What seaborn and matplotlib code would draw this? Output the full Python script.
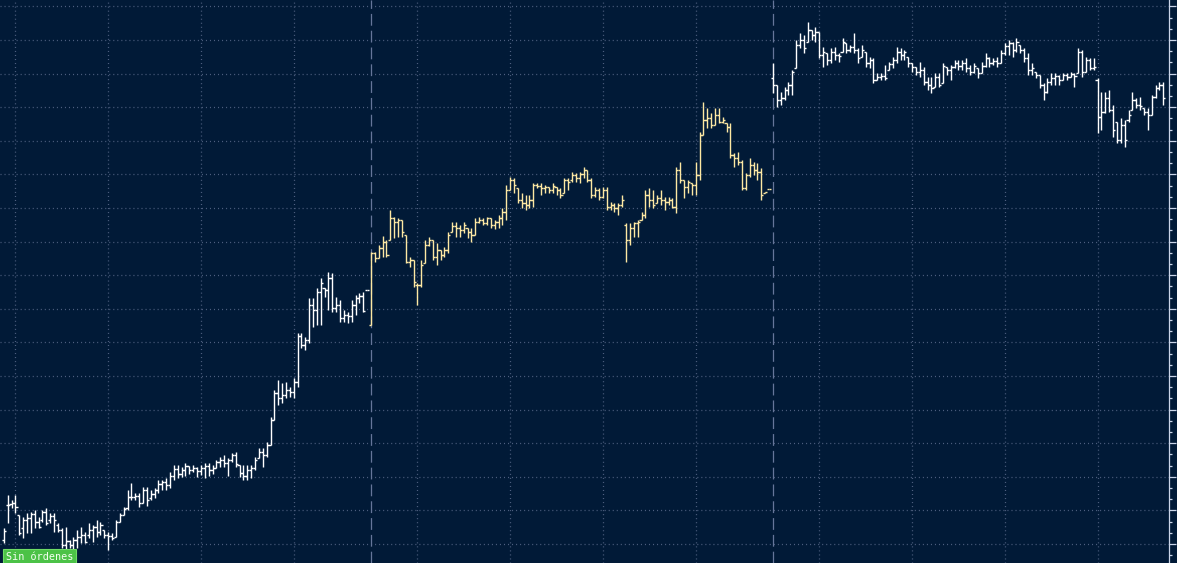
import numpy as np
import matplotlib
matplotlib.use("Agg")
import matplotlib.pyplot as plt
from matplotlib.ticker import FixedLocator, NullFormatter
import seaborn as sns

# session 1 (already running at the left edge), bar slots 9..103
s1_high = [472, 505, 500, 505, 485, 483, 487, 488, 490, 483,
           490, 492, 487, 487, 477, 472, 473, 460, 463, 470,
           473, 468, 477, 475, 480, 478, 470, 468, 467, 480,
           487, 493, 510, 517, 507, 507, 513, 513, 510, 512,
           520, 520, 522, 528, 535, 535, 533, 537, 534, 535,
           533, 535, 537, 537, 535, 540, 543, 545, 542, 547,
           548, 535, 535, 535, 535, 543, 552, 552, 558, 583,
           610, 620, 617, 618, 613, 622, 667, 667, 663, 702,
           702, 712, 722, 712, 728, 727, 703, 700, 690, 688,
           700, 705, 707, 708, 710]
s1_low = [457, 477, 492, 487, 465, 462, 467, 467, 472, 472,
          478, 475, 477, 468, 468, 452, 450, 452, 450, 452,
          457, 457, 462, 458, 463, 465, 462, 450, 460, 463,
          478, 485, 490, 500, 500, 493, 497, 494, 500, 502,
          507, 510, 510, 512, 520, 522, 523, 524, 526, 528,
          523, 525, 522, 524, 526, 532, 533, 533, 524, 538,
          533, 523, 520, 520, 522, 530, 542, 533, 543, 555,
          580, 595, 597, 602, 603, 602, 613, 652, 650, 657,
          673, 675, 675, 703, 690, 688, 688, 678, 678, 677,
          678, 685, 697, 688, 710]
s1_open = [460, 495, 496, 497, 485, 472, 480, 482, 486, 478,
           480, 488, 480, 484, 475, 470, 455, 459, 455, 460,
           463, 465, 465, 470, 473, 468, 470, 465, 464, 463,
           478, 485, 492, 503, 503, 504, 497, 510, 502, 506,
           510, 516, 518, 515, 524, 531, 526, 530, 534, 530,
           532, 529, 532, 534, 530, 532, 538, 540, 537, 540,
           545, 535, 527, 524, 530, 532, 542, 548, 545, 555,
           580, 607, 602, 605, 610, 608, 618, 664, 655, 660,
           695, 690, 708, 712, 710, 722, 692, 695, 682, 685,
           684, 695, 702, 704, 710]
s1_close = [469, 495, 497, 493, 467, 480, 482, 486, 478, 473,
            488, 477, 484, 480, 470, 455, 459, 455, 460, 463,
            465, 458, 470, 473, 468, 475, 465, 464, 462, 478,
            485, 491, 503, 503, 504, 497, 510, 500, 506, 510,
            516, 518, 515, 524, 531, 526, 530, 534, 530, 532,
            529, 532, 534, 530, 532, 538, 540, 537, 540, 545,
            536, 527, 524, 530, 532, 540, 548, 545, 555, 580,
            607, 602, 605, 610, 608, 618, 664, 655, 660, 695,
            690, 708, 717, 710, 722, 692, 695, 682, 685, 684,
            695, 702, 704, 689, 710]

# session 2, bar slots 104..207
s2_high = [748, 748, 755, 764, 760, 790, 783, 782, 780, 765,
           743, 740, 717, 740, 760, 763, 760, 757, 750, 753,
           768, 778, 778, 775, 778, 772, 772, 782, 783, 782,
           783, 782, 780, 785, 792, 815, 823, 822, 812, 807,
           805, 805, 817, 817, 817, 815, 813, 817, 813, 812,
           822, 822, 828, 827, 828, 833, 830, 822, 813, 812,
           813, 813, 798, 797, 797, 805, 777, 777, 778, 780,
           788, 810, 812, 810, 805, 810, 803, 803, 802, 833,
           838, 820, 820, 817, 838, 868, 898, 892, 887, 892,
           892, 883, 877, 877, 847, 848, 840, 827, 842, 838,
           837, 832, 808, 811]
s2_low = [675, 738, 742, 743, 743, 760, 762, 763, 763, 737,
          733, 713, 695, 713, 737, 754, 740, 735, 740, 743,
          747, 768, 763, 763, 767, 762, 758, 765, 777, 775,
          775, 772, 771, 772, 775, 780, 810, 807, 797, 792,
          790, 792, 793, 812, 805, 807, 807, 807, 805, 802,
          807, 810, 818, 818, 817, 822, 818, 802, 803, 800,
          802, 790, 790, 788, 785, 793, 738, 755, 763, 763,
          780, 782, 793, 792, 797, 795, 790, 795, 792, 787,
          817, 802, 807, 805, 805, 820, 865, 872, 872, 875,
          877, 877, 868, 842, 833, 835, 810, 810, 823, 825,
          820, 800, 807, 811]
s2_open = [675, 747, 742, 752, 758, 760, 782, 778, 780, 765,
           738, 740, 715, 715, 737, 755, 760, 743, 750, 745,
           750, 768, 774, 772, 770, 772, 768, 765, 778, 780,
           777, 782, 775, 778, 782, 788, 810, 820, 812, 800,
           797, 795, 800, 815, 814, 812, 813, 810, 813, 810,
           807, 820, 820, 825, 822, 826, 830, 820, 805, 810,
           803, 810, 793, 795, 792, 795, 775, 760, 772, 777,
           780, 785, 805, 800, 797, 802, 800, 798, 800, 793,
           830, 820, 813, 817, 815, 825, 865, 880, 882, 875,
           885, 878, 877, 873, 845, 842, 838, 812, 825, 835,
           830, 828, 807, 811]
s2_close = [747, 742, 752, 758, 745, 782, 778, 780, 768, 738,
            740, 718, 715, 735, 755, 760, 743, 750, 745, 750,
            765, 774, 772, 770, 775, 768, 765, 778, 780, 777,
            782, 775, 778, 782, 788, 810, 820, 815, 800, 797,
            795, 800, 815, 814, 812, 813, 810, 814, 810, 805,
            820, 818, 825, 822, 826, 830, 820, 805, 810, 803,
            810, 793, 795, 792, 795, 800, 760, 772, 777, 778,
            785, 805, 800, 795, 802, 800, 798, 800, 793, 830,
            820, 813, 818, 815, 825, 865, 880, 882, 875, 885,
            878, 880, 873, 845, 842, 838, 812, 825, 835, 830,
            828, 805, 808, 811]

# session 3, bar slots 208..309
s3_high = [937, 915, 908, 913, 918, 930, 960, 967, 965, 978,
           970, 973, 968, 953, 947, 952, 953, 947, 962, 957,
           955, 967, 952, 955, 948, 943, 942, 927, 927, 935,
           938, 943, 953, 952, 950, 943, 937, 933, 938, 933,
           923, 923, 927, 927, 937, 933, 935, 940, 940, 940,
           942, 935, 937, 932, 938, 947, 943, 942, 943, 950,
           957, 960, 958, 962, 955, 952, 947, 937, 928, 925,
           917, 922, 927, 927, 925, 927, 927, 928, 927, 952,
           950, 943, 942, 942, 922, 908, 908, 910, 895, 878,
           882, 880, 890, 908, 902, 903, 892, 892, 905, 915,
           918, 918]
s3_low = [907, 893, 895, 900, 905, 905, 932, 952, 947, 958,
          960, 958, 942, 933, 935, 937, 940, 938, 948, 947,
          948, 947, 937, 943, 933, 932, 917, 920, 920, 920,
          930, 932, 937, 940, 940, 933, 928, 925, 923, 915,
          910, 907, 913, 913, 917, 925, 920, 932, 930, 930,
          928, 925, 927, 922, 927, 933, 933, 935, 933, 937,
          945, 945, 943, 948, 947, 938, 925, 925, 922, 912,
          900, 907, 915, 915, 915, 920, 920, 923, 913, 927,
          923, 928, 930, 930, 867, 870, 887, 888, 863, 857,
          857, 853, 878, 890, 892, 890, 885, 870, 885, 902,
          910, 895]
s3_open = [922, 915, 900, 902, 910, 915, 932, 955, 960, 958,
           970, 965, 968, 945, 947, 940, 948, 945, 948, 957,
           950, 953, 950, 943, 948, 937, 940, 920, 923, 924,
           930, 936, 940, 948, 945, 943, 937, 933, 928, 930,
           918, 915, 913, 923, 917, 933, 930, 933, 937, 934,
           937, 932, 928, 932, 927, 934, 942, 937, 939, 937,
           947, 954, 957, 950, 955, 950, 942, 930, 928, 925,
           915, 908, 918, 922, 924, 920, 925, 923, 926, 927,
           948, 928, 940, 932, 920, 883, 888, 902, 890, 878,
           860, 875, 880, 890, 900, 895, 892, 888, 885, 903,
           912, 915]
s3_close = [915, 900, 902, 910, 915, 928, 955, 960, 952, 970,
            965, 968, 945, 948, 940, 948, 945, 944, 958, 950,
            953, 950, 942, 950, 937, 940, 920, 923, 924, 922,
            936, 940, 948, 945, 948, 937, 933, 928, 930, 918,
            915, 912, 923, 915, 934, 930, 933, 937, 934, 937,
            932, 928, 934, 927, 934, 942, 937, 939, 937, 947,
            954, 957, 950, 958, 950, 942, 930, 932, 925, 915,
            908, 918, 922, 924, 920, 925, 923, 926, 924, 948,
            928, 940, 932, 933, 883, 888, 902, 890, 870, 860,
            875, 860, 885, 900, 895, 894, 888, 885, 903, 912,
            915, 902]

session_starts = [104, 208]
grid_slots = [12, 36, 60, 84, 116, 140, 164, 188, 220, 244, 268, 292]

bg = "#011a37"
grid_col = "#4f6080"
sep_col = "#66769a"
axis_col = "#c9d4e8"
white = "#ffffff"
yellow = "#fde8a3"

sns.set_theme(style="dark")
plt.rcParams["font.family"] = ["DejaVu Sans Mono", "DejaVu Sans"]
plt.rcParams["lines.scale_dashes"] = False

fig = plt.figure(figsize=(11.77, 5.63), dpi=100, facecolor=bg)
ax = fig.add_axes([0, 0, 1168.5 / 1177, 1])
ax.set_facecolor(bg)

sessions = [
    (9, s1_high, s1_low, s1_open, s1_close, white),
    (104, s2_high, s2_low, s2_open, s2_close, yellow),
    (208, s3_high, s3_low, s3_open, s3_close, white),
]
tick = 0.55
for start, hi, lo, op, cl, col in sessions:
    hi = np.array(hi, float)
    lo = np.array(lo, float)
    op = np.clip(op, lo, hi)
    cl = np.clip(cl, lo, hi)
    x = start + np.arange(len(hi))
    ax.vlines(x, lo, hi, color=col, lw=1.0, zorder=3)
    ax.hlines(op, x - tick, x, color=col, lw=1.0, zorder=3)
    ax.hlines(cl, x, x + tick, color=col, lw=1.0, zorder=3)

for s in session_starts:
    ax.axvline(s, color=sep_col, lw=0.9, linestyle=(0, (8.5, 3.6)), zorder=2)

ax.set_xlim(8.01, 310.34)
ax.set_ylim(437, 1000)

ax.xaxis.set_major_locator(FixedLocator(grid_slots))
ax.xaxis.set_major_formatter(NullFormatter())
ax.tick_params(axis="x", length=0)

major_y = 456 + 33.6 * np.arange(17)
minor_y = 456 - 33.6 + 11.2 * np.arange(54)
ax.yaxis.tick_right()
ax.yaxis.set_major_locator(FixedLocator(major_y))
ax.yaxis.set_minor_locator(FixedLocator(minor_y))
ax.yaxis.set_major_formatter(NullFormatter())
ax.yaxis.set_minor_formatter(NullFormatter())
ax.tick_params(axis="y", which="major", direction="out", length=4.7, width=0.9,
               color=axis_col, right=True, left=False)
ax.tick_params(axis="y", which="minor", direction="out", length=2.4, width=0.9,
               color=axis_col, right=True, left=False)

ax.grid(True, which="major", color=grid_col, lw=0.9, linestyle=(0, (0.75, 2.15)))
ax.set_axisbelow(True)

for side in ["left", "top", "bottom"]:
    ax.spines[side].set_visible(False)
ax.spines["right"].set_visible(True)
ax.spines["right"].set_color(axis_col)
ax.spines["right"].set_linewidth(0.9)

fig.text(6 / 1177, 1.5 / 563, "Sin órdenes", fontsize=7.3, color="#f4fff2",
         ha="left", va="bottom",
         bbox=dict(boxstyle="square,pad=0.25", fc="#4cc247", ec="#6fdc66", lw=0.8))

fig.savefig("out.png", dpi=100, facecolor=bg)
